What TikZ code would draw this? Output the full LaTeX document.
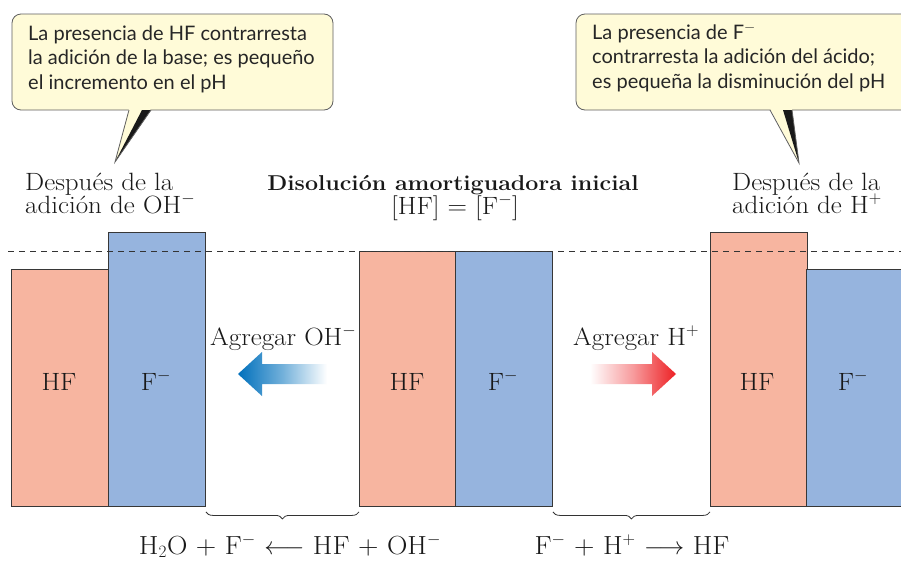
\documentclass[tikz,border=0pt]{standalone}
\usepackage{fontspec}
\setmainfont{Latin Modern Roman}[FakeStretch=1.08]
\newfontfamily\callfont{Lato}
\usetikzlibrary{decorations.pathreplacing}
\definecolor{hfcol}{RGB}{247,181,160}
\definecolor{fcol}{RGB}{150,180,222}
\definecolor{callfill}{RGB}{255,251,216}
\definecolor{callline}{RGB}{95,95,95}
\definecolor{barline}{RGB}{55,55,55}
\definecolor{arrblue}{RGB}{0,112,188}
\definecolor{arrred}{RGB}{237,32,36}
\tikzset{
  hfbar/.style={draw=barline, fill=hfcol, line width=0.9pt, inner sep=0pt, anchor=north west, minimum width=97pt},
  fbar/.style={draw=barline, fill=fcol, line width=0.9pt, inner sep=0pt, anchor=north west, minimum width=97pt},
  serif/.style={font=\fontsize{25}{25.5}\selectfont, inner sep=0pt, text=black!90},
  eqtext/.style={serif, anchor=base, font=\fontsize{26.2}{26.5}\selectfont},
  barlabel/.style={serif, anchor=base},
  calltext/.style={font=\callfont\fontsize{20}{24.5}\selectfont, inner sep=0pt, align=left, anchor=base west, text=black!85},
  callbox/.style={draw=callline, fill=callfill, line width=0.8pt, rounded corners=9pt},
  bracestyle/.style={decorate, decoration={brace, mirror, amplitude=7pt}, draw=black!80, line width=0.8pt},
}
\begin{document}
\begin{tikzpicture}[x=1pt,y=-1pt]
\clip (0,0) rectangle (901,560);
\fill[white] (0,0) rectangle (901,560);

% bars
\node[hfbar, minimum height=237pt] (hfL) at (11,269) {};
\node[fbar, minimum height=274pt] (fL) at (108,232) {};
\node[hfbar, minimum height=255pt] (hfM) at (359,251) {};
\node[fbar, minimum height=255pt] (fM) at (455,251) {};
\node[hfbar, minimum height=274pt] (hfR) at (710,232) {};
\node[fbar, minimum height=237pt, minimum width=110pt] (fR) at (806,269) {};

% dashed reference line
\coordinate (dl) at (8,251);
\coordinate (dr) at (901,251);
\draw[black!80, line width=0.9pt, dash pattern=on 6pt off 5pt] (dl) -- (dr);

% bar labels
\node[barlabel] (lhfL) at (59,390) {HF};
\node[barlabel] (lfL) at (156,390) {F$^-$};
\node[barlabel] (lhfM) at (407,390) {HF};
\node[barlabel] (lfM) at (503,390) {F$^-$};
\node[barlabel] (lhfR) at (757,390) {HF};
\node[barlabel] (lfR) at (853,390) {F$^-$};

% headings
\node[serif, anchor=base west] (hl1) at (25,190) {Después de la};
\node[serif, anchor=base west] (hl2) at (25,213) {adición de OH$^-$};
\node[serif, anchor=base, font=\fontsize{21.5}{22}\selectfont\bfseries] (ht1) at (453,190) {Disolución amortiguadora inicial};
\node[serif, anchor=base] (ht2) at (455,214) {[HF] = [F$^-$]};
\node[serif, anchor=base west] (hr1) at (732,190) {Después de la};
\node[serif, anchor=base west] (hr2) at (732,213) {adición de H$^+$};

% add labels
\node[serif, anchor=base west] (agL) at (210,345) {Agregar OH$^-$};
\node[serif, anchor=base west] (agR) at (573,345) {Agregar H$^+$};

% gradient arrows
\shade[left color=arrblue, right color=white, middle color=arrblue!55]
  (238,374) -- (262,352) -- (262,364) -- (327,364) -- (327,384) -- (262,384) -- (262,396) -- cycle;
\shade[left color=white, right color=arrred, middle color=arrred!45!white]
  (590,364) -- (652,364) -- (652,352) -- (676,374) -- (652,396) -- (652,384) -- (590,384) -- cycle;

% braces
\draw[bracestyle] ([yshift=-5pt]fL.south east) -- ([yshift=-5pt]hfM.south west);
\draw[bracestyle] ([yshift=-5pt]fM.south east) -- ([yshift=-5pt]hfR.south west);

% equations
\node[eqtext] (eqL) at (290,554) {H$_2$O + F$^-$ $\longleftarrow$ HF + OH$^-$};
\node[eqtext] (eqR) at (632,554) {F$^-$ + H$^+$ $\longrightarrow$ HF};

% left callout
\draw[callbox] (12,14) rectangle (333,110);
\coordinate (tipL) at (115,162);
\fill[callfill] (129,108.5) -- (151,108.5) -- (tipL) -- cycle;
\fill[black!90] (142,110) -- (151,110) -- (tipL) -- cycle;
\draw[callline, line width=0.8pt] (129,110) -- (tipL) -- (151,110);
\node[calltext] (cL) at (28,89) {La presencia de HF contrarresta\\la adición de la base; es pequeño\\el incremento en el pH};

% right callout
\draw[callbox] (576,14) rectangle (920,110);
\coordinate (tipR) at (799,163);
\fill[callfill] (770,108.5) -- (792,108.5) -- (tipR) -- cycle;
\fill[black!90] (783,110) -- (792,110) -- (tipR) -- cycle;
\draw[callline, line width=0.8pt] (770,110) -- (tipR) -- (792,110);
\node[calltext] (cR) at (592,88) {La presencia de F$^-$\\contrarresta la adición del ácido;\\es pequeña la disminución del pH};
\end{tikzpicture}
\end{document}
